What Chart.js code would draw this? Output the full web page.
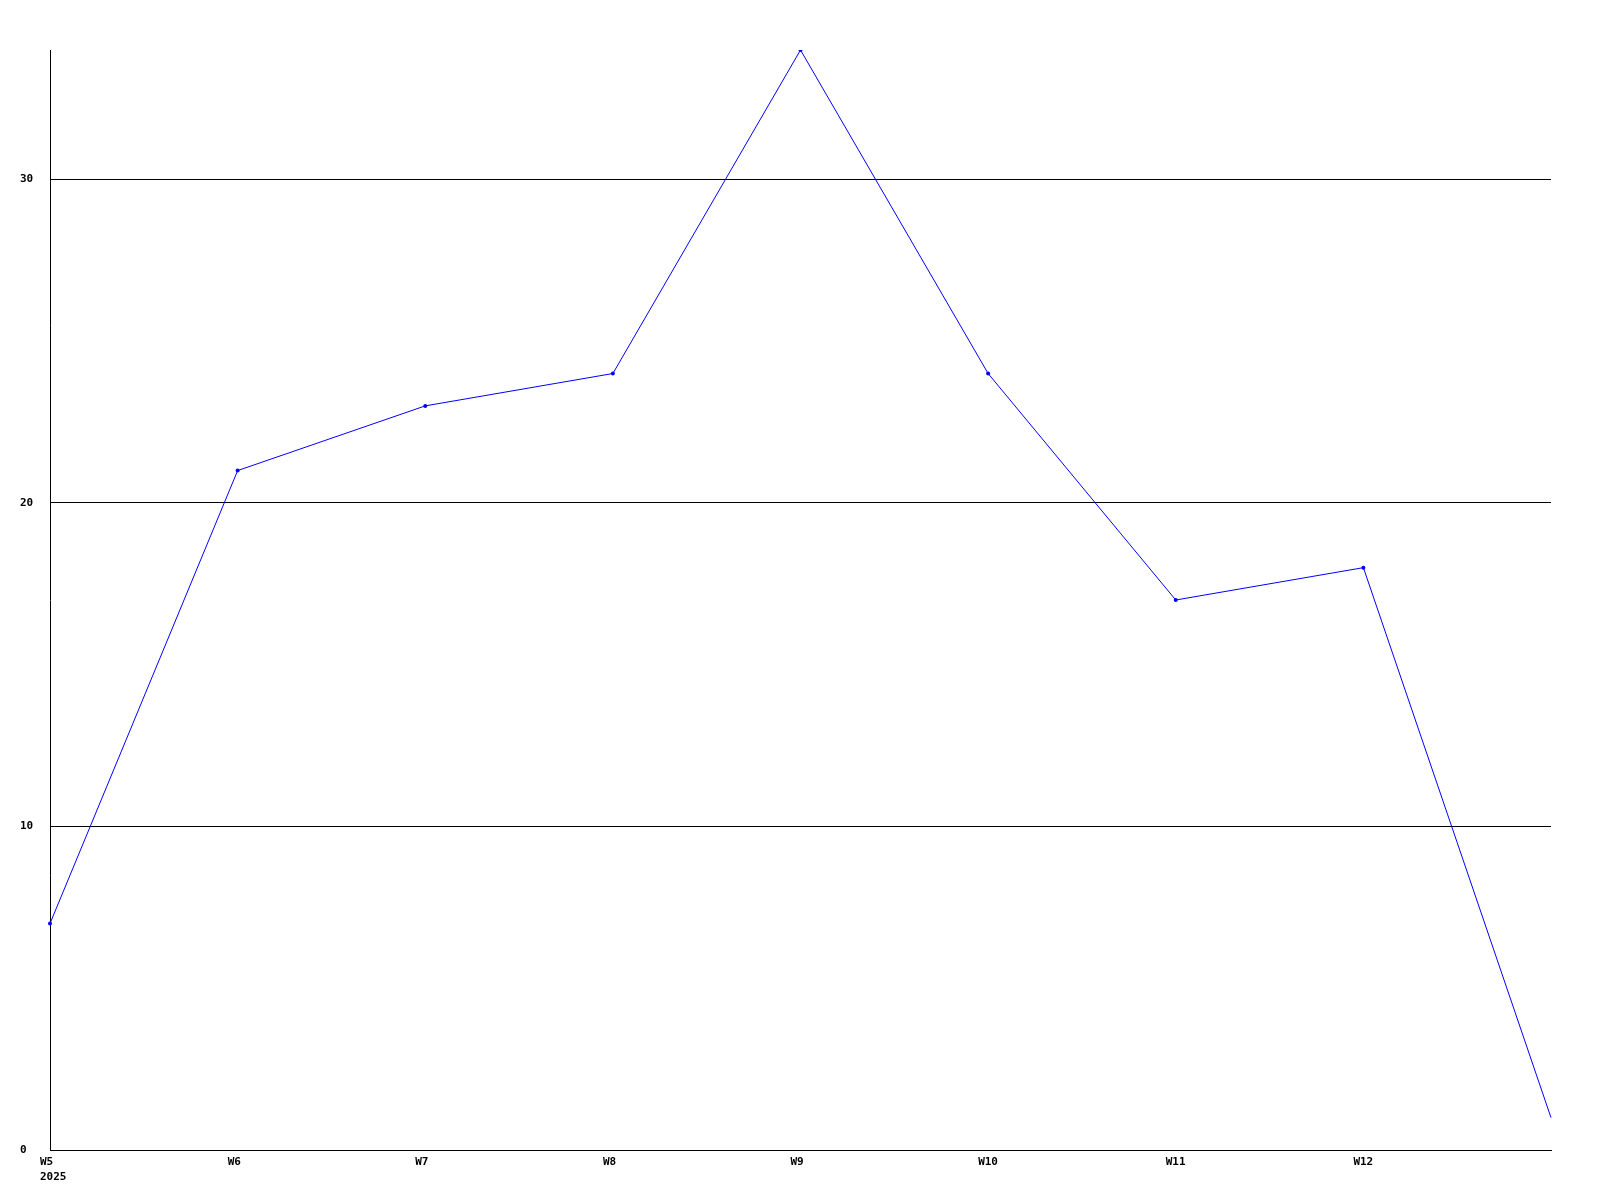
<!DOCTYPE html>
<html>
<head>
<meta charset="utf-8">
<script src="https://cdn.jsdelivr.net/npm/chart.js@4"></script>
<style>
  html, body { margin: 0; padding: 0; background: #fff; }
  #wrap { width: 1600px; height: 1200px; }
</style>
</head>
<body>
<div id="wrap"><canvas id="weekChart" width="1600" height="1200"></canvas></div>
<script>
// data
const weeks = ["W5", "W6", "W7", "W8", "W9", "W10", "W11", "W12", "W13"];
const counts = [7, 21, 23, 24, 34, 24, 17, 18, 1];
const yearLabel = "2025";
const yMax = 34;

const ctx = document.getElementById("weekChart").getContext("2d");
const monoFont = { family: "'DejaVu Sans Mono', monospace", size: 11, weight: "bold", lineHeight: 15 / 11 };

new Chart(ctx, {
  type: "line",
  data: {
    labels: weeks,
    datasets: [{
      data: counts,
      borderColor: "#0000ff",
      backgroundColor: "#0000ff",
      borderWidth: 1,
      // the last week runs off the edge without a marker
      pointRadius: function (c) { return c.dataIndex === counts.length - 1 ? 0 : 2; },
      pointBorderWidth: 0,
      tension: 0,
      fill: false
    }]
  },
  options: {
    responsive: false,
    animation: false,
    events: [],
    layout: { padding: { left: 20, right: 49, top: 50, bottom: 0 } },
    plugins: { legend: { display: false }, tooltip: { enabled: false } },
    scales: {
      x: {
        type: "category",
        offset: false,
        grid: { display: false, drawTicks: false },
        border: { display: true, color: "#000", width: 1 },
        afterFit: function (axis) { axis.height = 50; },
        ticks: {
          color: "#000",
          font: monoFont,
          autoSkip: false,
          maxRotation: 0,
          minRotation: 0,
          align: "start",
          labelOffset: -10,
          padding: 5,
          callback: function (value, index) {
            if (index === weeks.length - 1) return "";
            if (index === 0) return [weeks[0], yearLabel];
            return weeks[index];
          }
        }
      },
      y: {
        min: 0,
        max: yMax,
        grid: { color: "#000", lineWidth: 1, drawTicks: false },
        border: { display: true, color: "#000", width: 1 },
        afterFit: function (axis) { axis.width = 30; },
        ticks: {
          stepSize: 10,
          includeBounds: false,
          color: "#000",
          font: { family: "'DejaVu Sans Mono', monospace", size: 11, weight: "bold" },
          crossAlign: "far",
          padding: 0
        }
      }
    }
  }
});
</script>
</body>
</html>
